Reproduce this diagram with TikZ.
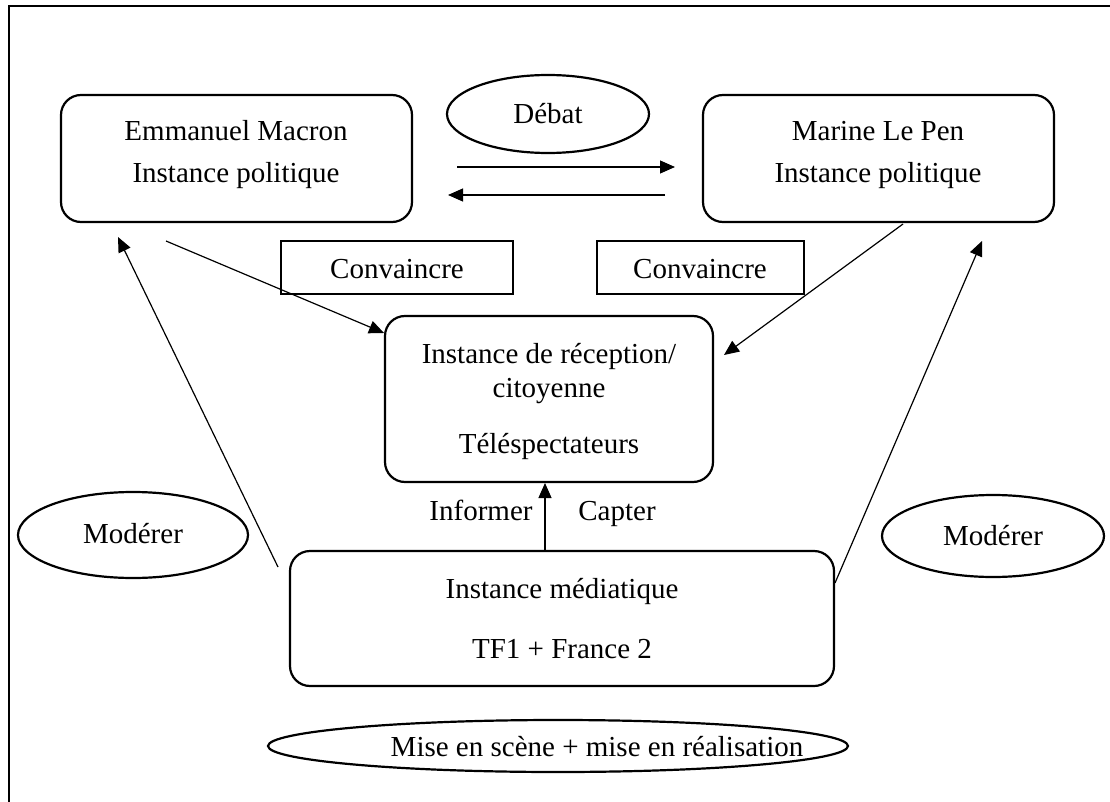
\documentclass[tikz,border=0pt]{standalone}
\usepackage{fontspec}
\setmainfont{Liberation Serif}
\usetikzlibrary{arrows.meta,shapes.geometric,fit}
\begin{document}
\begin{tikzpicture}[x=1pt,y=-1pt,
  txt/.style={anchor=base,inner sep=0pt,font=\fontsize{29}{34}\selectfont},
  frameline/.style={line width=2.6pt},
  rbox/.style={draw,line width=2.2pt,rounded corners=20pt,inner sep=0pt},
  sbox/.style={draw,line width=2.2pt,inner sep=0pt},
  oval/.style={draw,ellipse,line width=2.2pt,inner sep=0pt},
  arr/.style={line width=1.2pt,-{Triangle[length=15pt,width=13pt]}}]
\useasboundingbox (0,0) rectangle (1110,802);

% outer frame (top and left sides)
\draw[frameline] (9,802) -- (9,6) -- (1110,6);

% boxes
\node[rbox,fit={(61,95) (412,222)}] (macron) {};
\node[rbox,fit={(703,95) (1054,222)}] (lepen) {};
\node[sbox,fit={(281,241) (513,294)}] (convA) {};
\node[sbox,fit={(597,241) (804,294)}] (convB) {};
\node[rbox,fit={(385,316) (713,482)}] (recep) {};
\node[rbox,fit={(290,551) (834,686)}] (media) {};

% ellipses
\node[oval,minimum width=202pt,minimum height=78pt] (debat) at (548,114) {};
\node[oval,minimum width=230pt,minimum height=86pt] (modA) at (133,535) {};
\node[oval,minimum width=222pt,minimum height=82pt] (modB) at (993,536) {};
\node[oval,minimum width=580pt,minimum height=52pt] (mise) at (558,746) {};

% texts
\node[txt] (macronA) at (236,141) {Emmanuel Macron};
\node[txt] (macronB) at (236,183) {Instance politique};
\node[txt] (lepenA) at (878,141) {Marine Le Pen};
\node[txt] (lepenB) at (878,183) {Instance politique};
\node[txt] (debatT) at (548,124) {Débat};
\node[txt] (convAT) at (397,278) {Convaincre};
\node[txt] (convBT) at (700,278) {Convaincre};
\node[txt] (recepA) at (549,363) {Instance de réception/};
\node[txt] (recepB) at (549,397) {citoyenne};
\node[txt] (recepC) at (549,453) {Téléspectateurs};
\node[txt] (inf) at (481,520) {Informer};
\node[txt] (capt) at (617,520) {Capter};
\node[txt] (modAT) at (133,543) {Modérer};
\node[txt] (modBT) at (993,545) {Modérer};
\node[txt] (mediaA) at (562,598) {Instance médiatique};
\node[txt] (mediaB) at (562,658) {TF1 + France 2};
\node[txt] (miseT) at (597,756) {Mise en scène + mise en réalisation};

% connector end points
\coordinate (d1s) at (457,167);
\coordinate (d1e) at (675,167);
\coordinate (d2s) at (665,195);
\coordinate (d2e) at (448,195);
\coordinate (mrS) at (166,241);
\coordinate (mrE) at (384,333);
\coordinate (lrS) at (903,224);
\coordinate (lrE) at (724,355);
\coordinate (vS) at (545,551);
\coordinate (vE) at (545,483);
\coordinate (lmS) at (278,567);
\coordinate (lmE) at (118,237);
\coordinate (rmS) at (835,583);
\coordinate (rmE) at (982,241);

% connectors
\draw[arr] (d1s) -- (d1e);
\draw[arr] (d2s) -- (d2e);
\draw[arr] (mrS) -- (mrE);
\draw[arr] (lrS) -- (lrE);
\draw[arr] (vS) -- (vE);
\draw[arr] (lmS) -- (lmE);
\draw[arr] (rmS) -- (rmE);
\end{tikzpicture}
\end{document}
